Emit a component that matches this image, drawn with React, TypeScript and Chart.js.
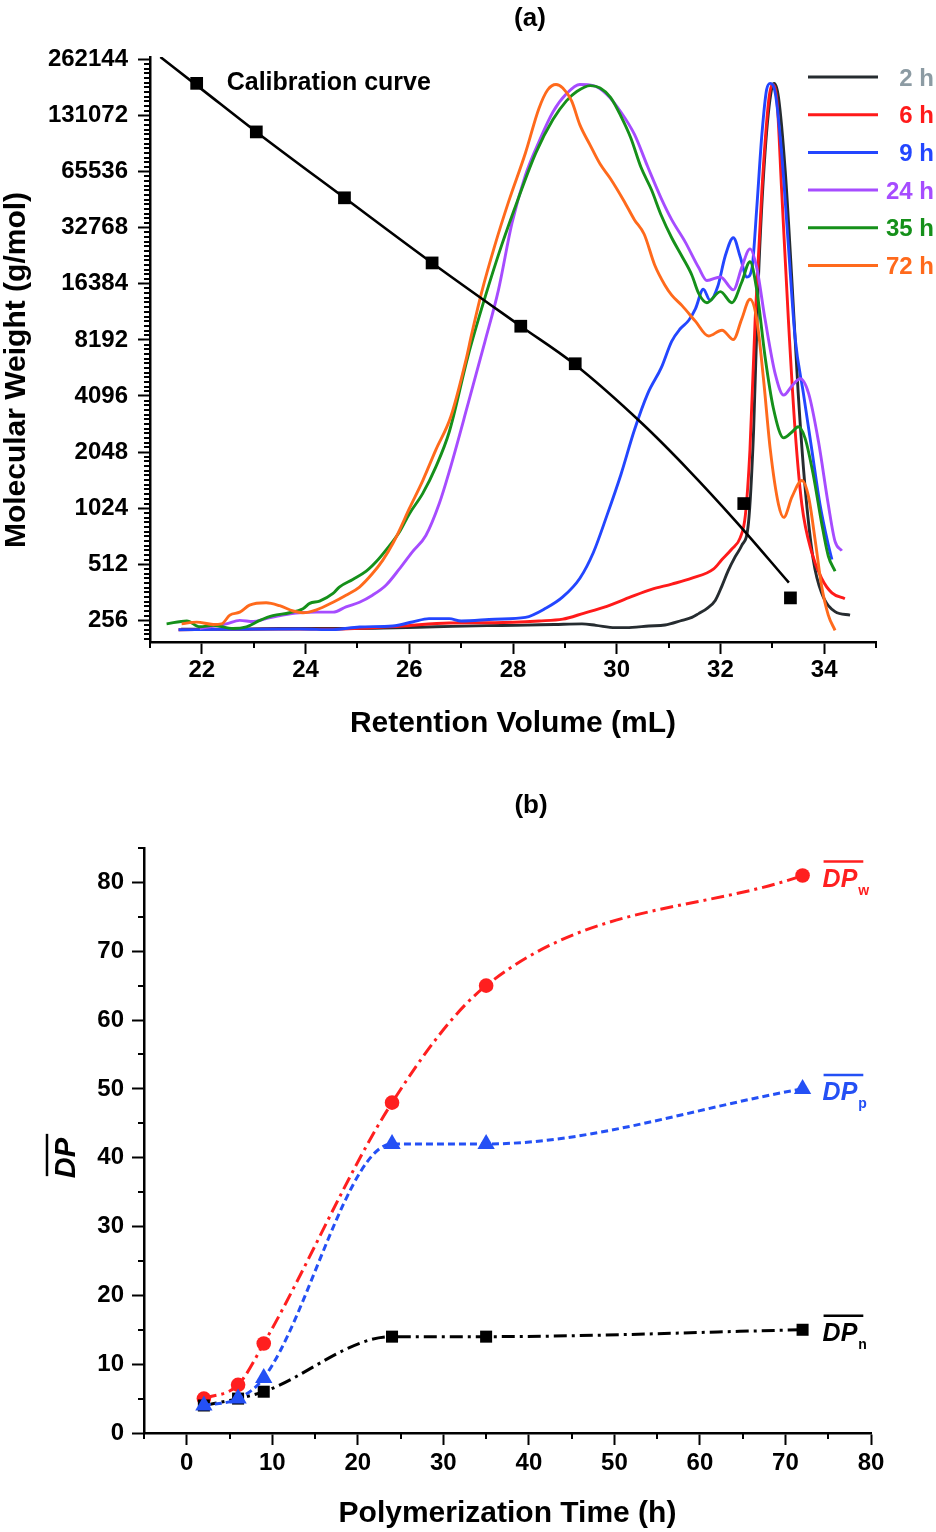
import React, { useEffect, useRef } from 'react';
import { Chart, registerables } from 'chart.js';

Chart.register(...registerables);

const FONT = '"Liberation Sans", Arial, Helvetica, sans-serif';

// ================= Panel (a): GPC traces + calibration =================
const volumeTicks = [22, 24, 26, 28, 30, 32, 34];
const volumeMinorTicks = [21, 23, 25, 27, 29, 31, 33, 35];
const mwTicks = [256, 512, 1024, 2048, 4096, 8192, 16384, 32768, 65536, 131072, 262144];

const calibVolume = [21.9, 23.05, 24.75, 26.44, 28.15, 29.2, 32.45, 33.35];
const calibMW = [195000, 107000, 47400, 21200, 9700, 6100, 1084, 338];
const fitVolume = [21.2, 22.0, 23.05, 24.75, 26.44, 28.15, 29.17, 30.49, 31.39, 32.28, 33.32];
const fitMW = [270000, 181000, 107000, 47400, 21200, 9700, 6115, 2913, 1635, 881, 408];

const traceLabels = ['2 h', '6 h', '9 h', '24 h', '35 h', '72 h'];
const traceColors = ['#262c30', '#ff1a1a', '#2346ff', '#a64cff', '#15901a', '#ff6a1c'];
const traceLabelColors = ['#8c9ba3', '#ff1a1a', '#2346ff', '#a64cff', '#15901a', '#ff6a1c'];

const rv2h = [21.6, 22.5, 23.5, 24.5, 25.5, 26.5, 27.5, 28.05, 28.8, 29.33, 29.6, 29.97, 30.3, 30.62, 30.93, 31.26, 31.45, 31.58, 31.75, 31.9, 32.03, 32.15, 32.28, 32.41, 32.54, 32.64, 32.73, 32.86, 32.99, 33.04, 33.12, 33.25, 33.38, 33.5, 33.63, 33.79, 33.95, 34.21, 34.5];
const sig2h = [2.2, 2.2, 2.3, 2.3, 2.4, 2.6, 2.8, 2.85, 3.0, 3.1, 2.85, 2.45, 2.5, 2.74, 2.9, 3.7, 4.2, 4.85, 5.8, 7.1, 9.6, 12.2, 14.5, 16.5, 20.3, 36.2, 61.5, 83.6, 94.7, 95.5, 93.1, 80.5, 61.5, 42.5, 26.7, 14.1, 8.4, 5.2, 4.6];

const rv6h = [21.55, 22.5, 23.24, 24.53, 25.81, 26.77, 27.65, 28.5, 28.96, 29.36, 29.81, 30.27, 30.67, 31.06, 31.45, 31.87, 32.03, 32.22, 32.38, 32.48, 32.57, 32.67, 32.8, 32.93, 33.0, 33.09, 33.18, 33.31, 33.44, 33.57, 33.76, 33.95, 34.15, 34.4];
const sig6h = [2.1, 2.15, 2.2, 2.2, 2.7, 3.25, 3.3, 3.6, 3.9, 4.9, 6.1, 7.7, 9.0, 9.9, 10.9, 12.5, 14.1, 15.9, 17.8, 21.6, 33.0, 55.2, 77.3, 92.5, 95.3, 92.5, 77.3, 55.2, 36.2, 23.5, 15.3, 10.9, 8.4, 7.4];

const rv9h = [21.55, 22.6, 23.88, 24.53, 25.04, 25.68, 26.06, 26.38, 26.77, 27.0, 27.65, 28.24, 28.64, 28.96, 29.29, 29.55, 29.81, 30.08, 30.34, 30.6, 30.86, 31.06, 31.22, 31.39, 31.52, 31.67, 31.8, 31.95, 32.09, 32.25, 32.38, 32.51, 32.61, 32.7, 32.8, 32.89, 32.96, 33.06, 33.18, 33.31, 33.44, 33.6, 33.76, 33.92, 34.08, 34.15];
const sig9h = [2.1, 2.17, 2.22, 2.11, 2.57, 2.74, 3.42, 3.99, 3.99, 3.6, 3.9, 4.2, 5.8, 7.7, 10.9, 15.3, 21.6, 28.6, 36.2, 42.5, 46.9, 51.4, 53.5, 55.0, 57.0, 60.3, 58.4, 60.8, 65.9, 69.1, 65.9, 62.4, 64.0, 74.1, 86.8, 94.4, 95.5, 93.7, 83.6, 67.8, 52.0, 42.5, 33.0, 23.5, 16.6, 14.1];

const rv24h = [21.96, 22.47, 22.73, 22.99, 23.24, 23.56, 23.88, 24.21, 24.53, 24.78, 25.04, 25.29, 25.55, 25.81, 26.06, 26.32, 26.58, 26.77, 27.13, 27.46, 27.72, 27.98, 28.24, 28.5, 28.77, 29.03, 29.29, 29.55, 29.81, 30.08, 30.34, 30.6, 30.86, 31.06, 31.32, 31.58, 31.74, 32.0, 32.25, 32.41, 32.57, 32.7, 32.86, 33.06, 33.22, 33.38, 33.54, 33.7, 33.89, 34.08, 34.21, 34.34];
const sig24h = [2.3, 3.1, 3.7, 3.5, 4.0, 4.6, 5.0, 5.1, 5.1, 6.0, 6.8, 8.0, 9.7, 12.5, 15.4, 18.2, 23.7, 29.1, 40.6, 51.4, 60.2, 71.6, 79.8, 85.5, 90.6, 93.7, 95.3, 95.1, 93.6, 90.6, 86.8, 81.2, 75.8, 72.2, 68.4, 64.0, 61.8, 62.4, 60.2, 64.0, 67.2, 64.0, 55.2, 45.7, 42.2, 43.8, 45.0, 42.5, 34.3, 23.5, 17.2, 15.6];

const rv35h = [21.32, 21.71, 21.96, 22.22, 22.6, 22.86, 23.12, 23.37, 23.69, 23.95, 24.08, 24.27, 24.53, 24.65, 24.91, 25.17, 25.36, 25.55, 25.81, 26.0, 26.26, 26.51, 26.77, 27.13, 27.46, 27.78, 28.11, 28.44, 28.77, 29.03, 29.23, 29.49, 29.68, 29.88, 30.08, 30.27, 30.47, 30.67, 30.86, 31.06, 31.26, 31.45, 31.58, 31.74, 32.0, 32.22, 32.41, 32.57, 32.7, 32.86, 33.02, 33.22, 33.38, 33.5, 33.63, 33.79, 33.95, 34.08, 34.21];
const sig35h = [3.1, 3.6, 2.6, 2.85, 2.3, 2.6, 3.7, 4.5, 5.0, 5.7, 6.6, 7.0, 8.3, 9.4, 10.7, 12.1, 13.7, 15.7, 18.8, 21.9, 25.4, 29.9, 35.9, 48.8, 58.9, 67.8, 76.0, 83.6, 89.3, 92.5, 94.1, 95.1, 94.7, 93.1, 89.9, 86.2, 81.1, 77.3, 72.9, 69.1, 65.9, 62.7, 59.6, 58.0, 59.9, 58.0, 61.5, 65.0, 60.2, 48.8, 40.0, 34.9, 35.9, 36.8, 34.9, 28.6, 20.4, 14.7, 12.1];

const rv72h = [21.61, 21.9, 22.22, 22.38, 22.54, 22.73, 22.92, 23.24, 23.5, 23.76, 23.95, 24.21, 24.53, 24.78, 25.04, 25.29, 25.49, 25.68, 25.81, 26.0, 26.26, 26.51, 26.8, 27.09, 27.2, 27.39, 27.65, 27.92, 28.24, 28.5, 28.67, 28.83, 28.96, 29.13, 29.29, 29.49, 29.68, 29.88, 30.14, 30.34, 30.53, 30.73, 30.93, 31.06, 31.26, 31.52, 31.77, 32.03, 32.25, 32.41, 32.57, 32.7, 32.83, 32.96, 33.12, 33.22, 33.38, 33.57, 33.7, 33.83, 33.95, 34.08, 34.21];
const sig72h = [3.1, 3.4, 3.0, 3.1, 4.6, 5.1, 6.3, 6.7, 6.2, 5.3, 5.0, 5.5, 6.8, 8.0, 9.4, 11.7, 14.0, 16.8, 19.1, 22.8, 27.6, 32.8, 38.5, 48.1, 52.5, 59.6, 67.8, 75.4, 83.6, 91.2, 94.4, 95.3, 94.7, 92.5, 88.4, 84.9, 81.7, 79.2, 75.4, 72.2, 69.7, 64.5, 61.0, 59.3, 57.5, 54.8, 52.3, 53.3, 51.7, 55.2, 58.6, 55.2, 45.0, 33.0, 23.5, 21.3, 24.8, 27.6, 24.8, 17.2, 9.6, 4.6, 2.0];

const traceVolumes = [rv2h, rv6h, rv9h, rv24h, rv35h, rv72h];
const traceSignals = [sig2h, sig6h, sig9h, sig24h, sig35h, sig72h];

// ================= Panel (b): DP vs time =================
const timeH = [2, 6, 9, 24, 35, 72];
const dpW = [5, 7, 13, 48, 65, 81];
const dpP = [4, 5, 8, 42, 42, 50];
const dpN = [4, 5, 6, 14, 14, 15];
const timeTicks = [0, 10, 20, 30, 40, 50, 60, 70, 80];
const timeMinorTicks = [-5, 5, 15, 25, 35, 45, 55, 65, 75];
const dpTicks = [0, 10, 20, 30, 40, 50, 60, 70, 80];
const dpMinorTicks = [5, 15, 25, 35, 45, 55, 65, 75, 85];
const dpSubscripts = ['w', 'p', 'n'];
const dpColors = ['#ff1f1f', '#2450f5', '#000000'];

const zip = (xs: number[], ys: number[]) => xs.map((x, i) => ({ x, y: ys[i] }));

function axisStyle(tickLen: number, pad: number) {
  return {
    grid: { display: true, drawOnChartArea: false, drawTicks: true, tickLength: tickLen, tickWidth: 2, tickColor: '#000' },
    border: { display: true, color: '#000', width: 2.5 },
    ticks: {
      color: '#000',
      font: { family: FONT, size: 24, weight: 'bold' as const },
      padding: pad,
      autoSkip: false,
      maxRotation: 0,
      callback: (v: any) => String(v),
    },
  };
}

function minorTickPlugin(id: string, xs: number[], ys: number[], len: number) {
  return {
    id,
    afterDraw(chart: any) {
      const { ctx } = chart;
      const sx = chart.scales.x;
      const sy = chart.scales.y;
      ctx.save();
      ctx.strokeStyle = '#000';
      ctx.lineWidth = 2;
      xs.forEach((v) => {
        const p = Math.round(sx.getPixelForValue(v));
        ctx.beginPath();
        ctx.moveTo(p, chart.chartArea.bottom);
        ctx.lineTo(p, chart.chartArea.bottom + len);
        ctx.stroke();
      });
      ys.forEach((v) => {
        const p = Math.round(sy.getPixelForValue(v));
        ctx.beginPath();
        ctx.moveTo(chart.chartArea.left, p);
        ctx.lineTo(chart.chartArea.left - len, p);
        ctx.stroke();
      });
      ctx.restore();
    },
  };
}

export default function App() {
  const refA = useRef<HTMLCanvasElement>(null);
  const refB = useRef<HTMLCanvasElement>(null);

  useEffect(() => {
    // minor ticks for log2 axis (axis decoration)
    const mwMinor: number[] = [];
    for (let k = -1; k < mwTicks.length; k++) {
      for (let j = 1; j < 12; j++) {
        const v = 256 * Math.pow(2, k + j / 12);
        if (v > 196 && v < 270000) mwMinor.push(v);
      }
    }

    const textA = {
      id: 'textA',
      afterDraw(chart: any) {
        const { ctx, chartArea, scales } = chart;
        ctx.save();
        ctx.fillStyle = '#000';
        ctx.textAlign = 'center';
        ctx.textBaseline = 'middle';
        ctx.font = `bold 26px ${FONT}`;
        ctx.fillText('(a)', 530, 19);
        ctx.textBaseline = 'alphabetic';
        ctx.font = `bold 30px ${FONT}`;
        ctx.fillText('Retention Volume (mL)', (chartArea.left + chartArea.right) / 2, 732);
        ctx.save();
        ctx.translate(25, 370);
        ctx.rotate(-Math.PI / 2);
        ctx.fillText('Molecular Weight (g/mol)', 0, 0);
        ctx.restore();
        // calibration label
        ctx.textAlign = 'left';
        ctx.textBaseline = 'middle';
        ctx.font = `bold 25px ${FONT}`;
        const cx = scales.x.getPixelForValue(calibVolume[0]) + 30;
        const cy = scales.y.getPixelForValue(calibMW[0]);
        ctx.fillText('Calibration curve', cx, cy);
        // legend
        traceLabels.forEach((lab, i) => {
          const y = 77 + i * 37.7;
          ctx.strokeStyle = traceColors[i];
          ctx.lineWidth = 3;
          ctx.beginPath();
          ctx.moveTo(808, y);
          ctx.lineTo(878, y);
          ctx.stroke();
          ctx.fillStyle = traceLabelColors[i];
          ctx.textAlign = 'right';
          ctx.font = `bold 24px ${FONT}`;
          ctx.fillText(lab, 934, y + 2);
        });
        ctx.restore();
      },
    };

    const axA = axisStyle(12, 2);
    const ayA = axisStyle(12, 10);

    const chartA = new Chart(refA.current as HTMLCanvasElement, {
      type: 'line',
      data: {
        datasets: [
          {
            label: 'Calibration fit',
            data: zip(fitVolume, fitMW),
            yAxisID: 'y',
            borderColor: '#000',
            borderWidth: 2.6,
            pointRadius: 0,
            cubicInterpolationMode: 'monotone',
            order: 0,
          },
          {
            label: 'Calibration standards',
            data: zip(calibVolume, calibMW),
            yAxisID: 'y',
            showLine: false,
            pointStyle: 'rect',
            pointRadius: 9,
            pointBackgroundColor: '#000',
            pointBorderWidth: 0,
            order: 0,
          },
          ...traceLabels.map((lab, i) => ({
            label: lab,
            data: zip(traceVolumes[i], traceSignals[i]),
            yAxisID: 'y2',
            borderColor: traceColors[i],
            borderWidth: 2.9,
            pointRadius: 0,
            cubicInterpolationMode: 'monotone',
            order: 7 - i,
          })),
        ] as any,
      },
      options: {
        responsive: false,
        animation: false,
        devicePixelRatio: 1,
        layout: { padding: { top: 57, right: 60, left: 0, bottom: 0 } },
        plugins: { legend: { display: false }, tooltip: { enabled: false }, title: { display: false } },
        scales: {
          x: {
            type: 'linear',
            min: 21,
            max: 35,
            ...axA,
            afterBuildTicks: (s: any) => {
              s.ticks = volumeTicks.map((v) => ({ value: v }));
            },
            afterFit: (s: any) => {
              s.height = 128;
            },
          },
          y: {
            type: 'logarithmic',
            position: 'left',
            min: 196,
            max: 270000,
            ...ayA,
            afterBuildTicks: (s: any) => {
              s.ticks = mwTicks.map((v) => ({ value: v }));
            },
            afterFit: (s: any) => {
              s.width = 150;
            },
          },
          y2: { type: 'linear', display: false, min: 0, max: 100 },
        } as any,
      },
      plugins: [minorTickPlugin('minorA', volumeMinorTicks, mwMinor, 6), textA],
    } as any);

    const textB = {
      id: 'textB',
      afterDraw(chart: any) {
        const { ctx, chartArea } = chart;
        ctx.save();
        ctx.fillStyle = '#000';
        ctx.textAlign = 'center';
        ctx.textBaseline = 'middle';
        ctx.font = `bold 26px ${FONT}`;
        ctx.fillText('(b)', 531, 36);
        ctx.textBaseline = 'alphabetic';
        ctx.font = `bold 30px ${FONT}`;
        ctx.fillText('Polymerization Time (h)', (chartArea.left + chartArea.right) / 2, 752);
        // y title: DP with overline
        ctx.save();
        ctx.translate(75, 388);
        ctx.rotate(-Math.PI / 2);
        ctx.font = `italic bold 29px ${FONT}`;
        ctx.fillText('DP', 0, 0);
        const w = ctx.measureText('DP').width;
        ctx.strokeStyle = '#000';
        ctx.lineWidth = 2.5;
        ctx.beginPath();
        ctx.moveTo(-w / 2 + 2, -28);
        ctx.lineTo(w / 2 + 4, -28);
        ctx.stroke();
        ctx.restore();
        // series labels at the last points
        [0, 1, 2].forEach((i) => {
          const meta = chart.getDatasetMeta(i);
          const pt = meta.data[meta.data.length - 1];
          const x0 = pt.x + 20;
          const base = pt.y + 11;
          ctx.fillStyle = dpColors[i];
          ctx.strokeStyle = dpColors[i];
          ctx.textAlign = 'left';
          ctx.textBaseline = 'alphabetic';
          ctx.font = `italic bold 25px ${FONT}`;
          ctx.fillText('DP', x0, base);
          const tw = ctx.measureText('DP').width;
          ctx.lineWidth = 2.5;
          ctx.beginPath();
          ctx.moveTo(x0 + 1, base - 25);
          ctx.lineTo(x0 + tw + 6, base - 25);
          ctx.stroke();
          ctx.font = `bold 14px ${FONT}`;
          ctx.fillText(dpSubscripts[i], x0 + tw + 1, base + 8);
        });
        ctx.restore();
      },
    };

    const axB = axisStyle(12, 4);
    const ayB = axisStyle(12, 8);

    const chartB = new Chart(refB.current as HTMLCanvasElement, {
      type: 'line',
      data: {
        datasets: [
          {
            label: 'DPw',
            data: zip(timeH, dpW),
            borderColor: dpColors[0],
            borderWidth: 3,
            borderDash: [13, 5, 3, 5],
            pointStyle: 'circle',
            pointRadius: 7.3,
            pointBackgroundColor: dpColors[0],
            pointBorderWidth: 0,
            cubicInterpolationMode: 'monotone',
            order: 2,
          },
          {
            label: 'DPp',
            data: zip(timeH, dpP),
            borderColor: dpColors[1],
            borderWidth: 3,
            borderDash: [7, 4],
            pointStyle: 'triangle',
            pointRadius: 10,
            pointBackgroundColor: dpColors[1],
            pointBorderWidth: 0,
            cubicInterpolationMode: 'monotone',
            order: 0,
          },
          {
            label: 'DPn',
            data: zip(timeH, dpN),
            borderColor: dpColors[2],
            borderWidth: 3,
            borderDash: [13, 5, 3, 5],
            pointStyle: 'rect',
            pointRadius: 8.5,
            pointBackgroundColor: dpColors[2],
            pointBorderWidth: 0,
            cubicInterpolationMode: 'monotone',
            order: 1,
          },
        ] as any,
      },
      options: {
        responsive: false,
        animation: false,
        devicePixelRatio: 1,
        layout: { padding: { top: 78, right: 65, left: 0, bottom: 0 } },
        plugins: { legend: { display: false }, tooltip: { enabled: false }, title: { display: false } },
        scales: {
          x: {
            type: 'linear',
            min: -5,
            max: 80,
            ...axB,
            afterBuildTicks: (s: any) => {
              s.ticks = timeTicks.map((v) => ({ value: v }));
            },
            afterFit: (s: any) => {
              s.height = 99;
            },
          },
          y: {
            type: 'linear',
            position: 'left',
            min: 0,
            max: 85,
            ...ayB,
            afterBuildTicks: (s: any) => {
              s.ticks = dpTicks.map((v) => ({ value: v }));
            },
            afterFit: (s: any) => {
              s.width = 144;
            },
          },
        } as any,
      },
      plugins: [minorTickPlugin('minorB', timeMinorTicks, dpMinorTicks, 6), textB],
    } as any);

    return () => {
      chartA.destroy();
      chartB.destroy();
    };
  }, []);

  return (
    <div style={{ position: 'absolute', left: 0, top: 0, width: 936, height: 1532, background: '#fff' }}>
      <canvas ref={refA} width={936} height={770} style={{ position: 'absolute', left: 0, top: 0, width: 936, height: 770 }} />
      <canvas ref={refB} width={936} height={762} style={{ position: 'absolute', left: 0, top: 770, width: 936, height: 762 }} />
    </div>
  );
}
